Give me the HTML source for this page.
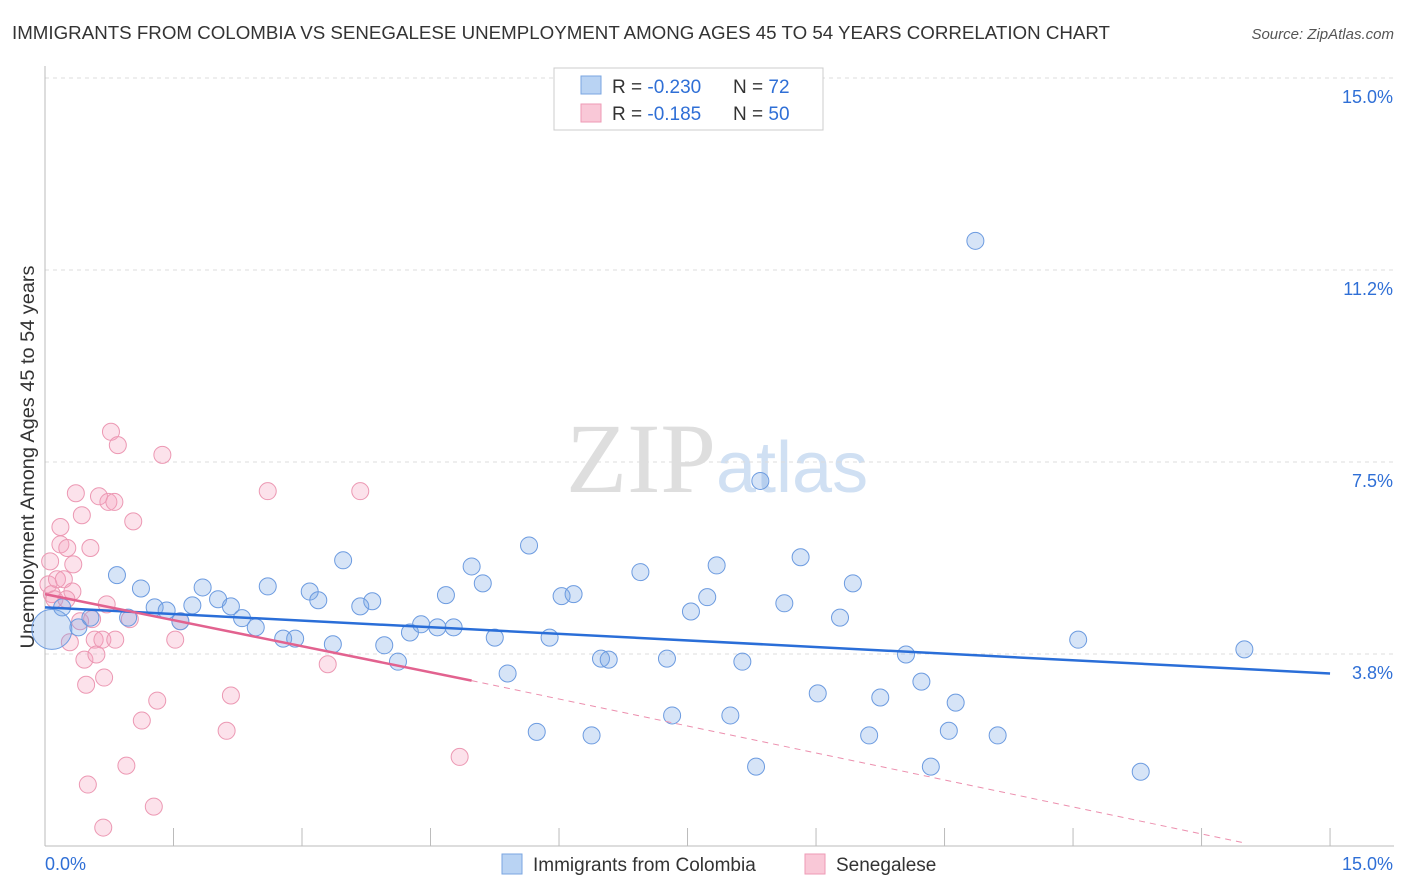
<!DOCTYPE html>
<html><head><meta charset="utf-8"><style>
body{margin:0;background:#fff;font-family:"Liberation Sans",sans-serif;}
#wrap{position:relative;width:1406px;height:892px;overflow:hidden;}
</style></head><body>
<div id="wrap">
<svg id="svg" width="1406" height="892" xmlns="http://www.w3.org/2000/svg">
<text x="12" y="39" font-size="18" fill="#333" textLength="1098" lengthAdjust="spacingAndGlyphs">IMMIGRANTS FROM COLOMBIA VS SENEGALESE UNEMPLOYMENT AMONG AGES 45 TO 54 YEARS CORRELATION CHART</text>
<text x="1394" y="39" font-size="15" fill="#555" font-style="italic" text-anchor="end">Source: ZipAtlas.com</text>
<text x="716" y="492" font-size="100" fill="#dedede" text-anchor="end" font-family="Liberation Serif,serif">ZIP</text>
<text x="716" y="492" font-size="72" fill="#d0e0f3">atlas</text>
<text transform="translate(34,457) rotate(-90)" font-size="19" fill="#333" text-anchor="middle" textLength="383" lengthAdjust="spacingAndGlyphs">Unemployment Among Ages 45 to 54 years</text>
<g id="grid"></g><g id="marks"></g><g id="lines"></g>
<g>
<rect x="554" y="68" width="269" height="62" fill="#fff" stroke="#ccc"/>
<rect x="581" y="76" width="20" height="18" fill="#b9d3f3" stroke="#7aa6e0"/>
<rect x="581" y="104" width="20" height="18" fill="#f9c8d7" stroke="#ee9ab5"/>
<text x="612" y="93" font-size="19" fill="#333">R = <tspan fill="#2f6fd6">-0.230</tspan></text>
<text x="733" y="93" font-size="19" fill="#333">N = <tspan fill="#2f6fd6"> 72</tspan></text>
<text x="612" y="120" font-size="19" fill="#333">R = <tspan fill="#2f6fd6"> -0.185</tspan></text>
<text x="733" y="120" font-size="19" fill="#333">N = <tspan fill="#2f6fd6">50</tspan></text>
</g>
<g>
<rect x="502" y="854" width="20" height="20" fill="#b9d3f3" stroke="#7aa6e0"/>
<text x="533" y="871" font-size="19" fill="#333">Immigrants from Colombia</text>
<rect x="805" y="854" width="20" height="20" fill="#f9c8d7" stroke="#ee9ab5"/>
<text x="836" y="871" font-size="19" fill="#333">Senegalese</text>
</g>
</svg>
</div>
<script>
const yTicks=[15,11.25,7.5,3.75];
const yTickLabels=["15.0%","11.2%","7.5%","3.8%"];
const xTickLabels=["0.0%","15.0%"];
const blueX=[0.08,0.20,0.39,0.53,0.84,0.97,1.12,1.28,1.42,1.58,1.72,1.84,2.02,2.17,2.30,2.46,2.60,2.78,2.92,3.09,3.19,3.36,3.48,3.68,3.82,3.96,4.12,4.26,4.39,4.58,4.68,4.77,4.98,5.11,5.25,5.40,5.65,5.74,5.89,6.03,6.17,6.38,6.49,6.58,6.95,7.26,7.32,7.54,7.73,7.84,8.00,8.14,8.30,8.35,8.63,8.82,9.02,9.28,9.43,9.62,9.75,10.05,10.23,10.34,10.55,10.63,10.86,11.12,12.06,12.79,14.00];
const blueY=[4.23,4.66,4.27,4.46,5.29,4.46,5.03,4.66,4.60,4.39,4.70,5.05,4.82,4.68,4.45,4.27,5.07,4.05,4.05,4.97,4.80,3.94,5.58,4.68,4.78,3.92,3.60,4.17,4.33,4.27,4.90,4.27,5.46,5.13,4.07,3.37,5.87,2.23,4.07,4.88,4.92,2.16,3.66,3.64,5.35,3.66,2.55,4.58,4.86,5.48,2.55,3.60,1.55,7.13,4.74,5.64,2.98,4.46,5.13,2.16,2.90,3.74,3.21,1.55,2.25,2.80,11.82,2.16,4.03,1.45,3.84];
const pinkX=[0.06,0.04,0.08,0.14,0.18,0.18,0.22,0.26,0.32,0.33,0.29,0.36,0.41,0.43,0.46,0.48,0.50,0.53,0.58,0.60,0.63,0.67,0.69,0.72,0.74,0.77,0.81,0.82,0.85,0.95,1.03,1.13,1.27,1.31,1.37,1.52,1.58,0.68,2.12,2.17,2.60,3.30,3.68,4.84,0.11,0.25,0.55,0.99];
const pinkY=[5.56,5.11,4.92,5.21,6.23,5.89,5.21,5.82,4.97,5.50,3.98,6.89,4.39,6.46,3.64,3.15,1.20,5.82,4.03,3.74,6.83,4.03,3.29,4.72,6.72,8.09,6.72,4.03,7.83,1.57,6.34,2.45,0.77,2.84,7.64,4.03,4.39,0.36,2.25,2.94,6.93,3.55,6.93,1.74,4.82,4.82,4.43,4.43];
const blueTrend=[[0,4.66],[15,3.37]];
const pinkTrendSolid=[[0,4.92],[4.98,3.23]];
const pinkTrendDash=[[4.98,3.23],[14.0,0.06]];

const NS="http://www.w3.org/2000/svg";
const X=v=>45+v*85.67;
const Y=v=>846-v*51.2;
function mk(tag,parent,attrs){const e=document.createElementNS(NS,tag);for(const k in attrs)e.setAttribute(k,attrs[k]);document.getElementById(parent).appendChild(e);return e;}
yTicks.forEach((t,i)=>{
 const l=mk('line','grid',{x1:45,x2:1394,y1:Y(t),y2:Y(t),stroke:'#ddd','stroke-dasharray':'4,4'});
 
 
 const tx=mk('text','grid',{x:1393,y:Y(t)+25,'font-size':18,fill:'#2f6fd6','text-anchor':'end'});
 tx.textContent=yTickLabels[i];
 
 
});
const ya=mk('line','grid',{x1:45,x2:45,y1:66,y2:846,stroke:'#bbb'});


const xa=mk('line','grid',{x1:45,x2:1394,y1:846,y2:846,stroke:'#bbb'});


for(let i=0;i<=10;i++){const t=mk('line','grid',{x1:X(i*1.5),x2:X(i*1.5),y1:828,y2:846,stroke:'#bbb'});
 
 }
const xl0=mk('text','grid',{x:45,y:870,'font-size':18,fill:'#2f6fd6'});xl0.textContent=xTickLabels[0];


const xl1=mk('text','grid',{x:1393,y:870,'font-size':18,fill:'#2f6fd6','text-anchor':'end'});xl1.textContent=xTickLabels[1];


pinkX.forEach((x,i)=>{const c=mk('circle','marks',{cx:X(x),cy:Y(pinkY[i]),r:8.5,fill:'rgba(244,160,188,0.3)',stroke:'#ec98b3','stroke-width':1});
 
 });
blueX.forEach((x,i)=>{const c=mk('circle','marks',{cx:X(x),cy:Y(blueY[i]),r:i===0?20:8.5,fill:'rgba(120,165,230,0.3)',stroke:'#6c9be0','stroke-width':1});
 
 });
const bl=mk('line','lines',{x1:X(blueTrend[0][0]),y1:Y(blueTrend[0][1]),x2:X(blueTrend[1][0]),y2:Y(blueTrend[1][1]),stroke:'#2a6ed8','stroke-width':2.5});


const pl=mk('line','lines',{x1:X(pinkTrendSolid[0][0]),y1:Y(pinkTrendSolid[0][1]),x2:X(pinkTrendSolid[1][0]),y2:Y(pinkTrendSolid[1][1]),stroke:'#e2628f','stroke-width':2.5});


const pd=mk('line','lines',{x1:X(pinkTrendDash[0][0]),y1:Y(pinkTrendDash[0][1]),x2:X(pinkTrendDash[1][0]),y2:Y(pinkTrendDash[1][1]),stroke:'#ec8fae','stroke-width':1,'stroke-dasharray':'6,5'});


</script>
</body></html>
